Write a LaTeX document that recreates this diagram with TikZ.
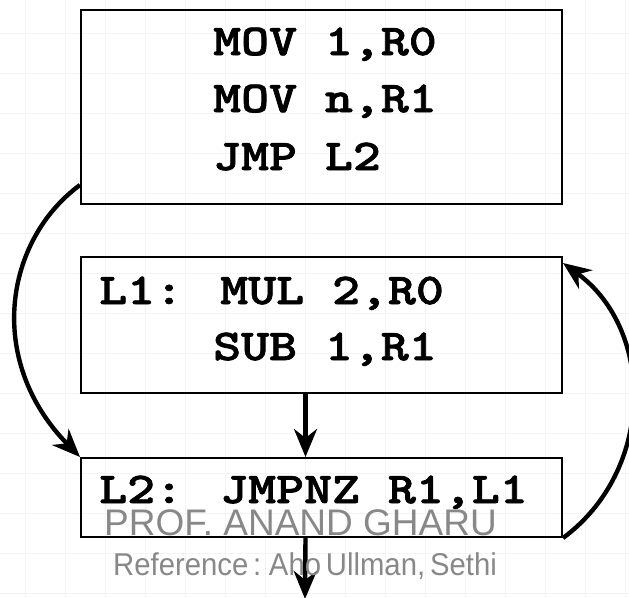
\documentclass[tikz,border=0pt]{standalone}
\usepackage{fontspec}
\setmainfont{Liberation Sans}
\newfontfamily\codefont[Extension=.otf, FakeStretch=1.21, FakeBold=1.6]{lmmonolt10-bold}
\newfontfamily\markfont[FakeStretch=0.93, WordSpace=0.6]{Liberation Sans}
\usetikzlibrary{arrows.meta}

\definecolor{gridgray}{HTML}{F4F4F4}
\definecolor{markgray}{HTML}{888888}

\tikzset{
  block/.style={draw, line width=2pt, minimum width=481pt, anchor=north west, inner sep=0pt},
  code/.style={font=\fontsize{44}{57}\selectfont\codefont, anchor=base west, inner sep=0pt},
  flow/.style={line width=4.4pt, -{Stealth[length=28pt, width=23pt, inset=9pt]}},
  watermark/.style={text=markgray, anchor=base west, inner sep=0pt}
}

\begin{document}
\begin{tikzpicture}[x=1pt, y=-1pt]

        \useasboundingbox (0,0) rectangle (629,597);

        % faint background grid
        \foreach \gx in {25,65,...,625}
          \draw[gridgray, line width=1pt] (\gx,0) -- (\gx,597);
        \foreach \gy in {33,73,...,593}
          \draw[gridgray, line width=1pt] (0,\gy) -- (629,\gy);

        % the three blocks
        \node [block, minimum height=194pt] (blk1) at (80,9) {};
        \node [block, minimum height=136pt] (blk2) at (80,256) {};
        \node [block, minimum height=79pt] (blk3) at (80,457) {};

        \node [code] (mov1) at (213,55) {MOV 1,R0};
        \node [code] (mov2) at (213,112) {MOV n,R1};
        \node [code] (jmp) at (213,170) {JMP L2};

        \node [code] (mul) at (99,304) {L1: MUL 2,R0};
        \node [code] (sub) at (213,360) {SUB 1,R1};

        \node [code] (jnz) at (99,503) {L2: JMPNZ R1,L1};

        % control flow
        \coordinate (exit) at (305,599);
        \draw[flow] ([yshift=20pt]blk1.south west) .. controls (5,240) and (-15,360) .. (blk3.north west);
        \draw[flow] ([xshift=-16pt]blk2.south) -- ([xshift=-16pt]blk3.north);
        \draw[flow] (blk3.south east) .. controls (655,470) and (655,330) .. ([yshift=-7pt]blk2.north east);
        \draw[flow] ([xshift=-16pt]blk3.south) -- (exit);

        % watermark
        \node [watermark, font=\fontsize{37}{40}\selectfont] (prof) at (104,535) {PROF. ANAND GHARU};
        \node [watermark, font=\fontsize{31.5}{34}\selectfont\markfont] (ref) at (113,575) {Reference : Aho Ullman, Sethi};

      \end{tikzpicture}
\end{document}
